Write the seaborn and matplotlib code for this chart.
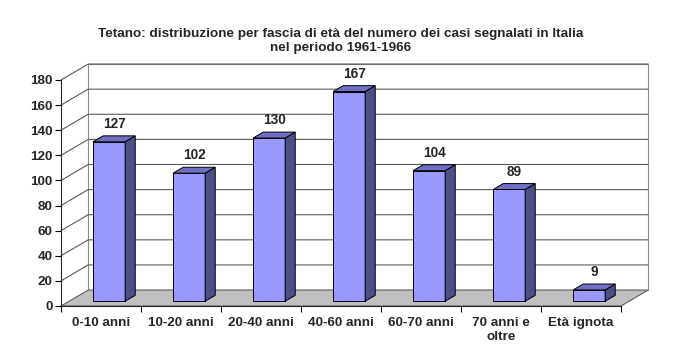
import matplotlib
matplotlib.use("Agg")
import matplotlib.pyplot as plt
import matplotlib.transforms as mtransforms
from matplotlib.patches import Polygon
import seaborn as sns

categories = ["0-10 anni", "10-20 anni", "20-40 anni", "40-60 anni",
              "60-70 anni", "70 anni e\noltre", "Età ignota"]
cases = [127, 102, 130, 167, 104, 89, 9]
y_ticks = [0, 20, 40, 60, 80, 100, 120, 140, 160, 180]
title = ("Tetano: distribuzione per fascia di età del numero dei casi segnalati in Italia\n"
         "nel periodo 1961-1966")

sns.set_style("ticks")
plt.rcParams["font.family"] = ["Liberation Sans", "DejaVu Sans"]

fig = plt.figure(figsize=(6.94, 3.61), dpi=100)
ax = fig.add_axes([61 / 694, 55 / 361, 560 / 694, 226 / 361])

# 3D look: depth of the box (data units) and where the bars sit in it
DX, DY = 0.34, 12.7
f0, f1 = 0.30, 0.67
front_col, side_col, top_col = "#9999ff", "#4f4f86", "#6f6fc4"

sns.barplot(x=categories, y=cases, color=front_col, width=0.4, saturation=1,
            edgecolor="black", linewidth=0.7, ax=ax, zorder=2)
bars = list(ax.patches)

ax.set_xlim(-0.5, len(categories) - 0.5)
ax.set_ylim(0, 180)
x0, x1 = -0.5, len(categories) - 0.5

# back wall, floor, side wall
ax.add_patch(Polygon([(x0 + DX, DY), (x1 + DX, DY), (x1 + DX, 180 + DY), (x0 + DX, 180 + DY)],
                     closed=True, facecolor="white", edgecolor="#8c8c8c", lw=0.8,
                     clip_on=False, zorder=0.5))
ax.add_patch(Polygon([(x0, 0), (x1, 0), (x1 + DX, DY), (x0 + DX, DY)],
                     closed=True, facecolor="#c0c0c0", edgecolor="#606060", lw=0.8,
                     clip_on=False, zorder=0.6))
for v in y_ticks[1:]:
    ax.plot([x0, x0 + DX, x1 + DX], [v, v + DY, v + DY], color="#5a5a5a", lw=0.8,
            clip_on=False, zorder=0.7)

off = mtransforms.offset_copy(ax.transData, fig=fig,
                              x=f0 * DX * 80 / 100, y=f0 * DY * (226 / 180) / 100,
                              units="inches")
bw = 0.4
bdx, bdy = (f1 - f0) * DX, (f1 - f0) * DY
for i, (p, v) in enumerate(zip(bars, cases)):
    p.set_transform(off)
    p.set_clip_on(False)
    l, r = i - bw / 2, i + bw / 2
    ax.add_patch(Polygon([(r, 0), (r + bdx, bdy), (r + bdx, v + bdy), (r, v)], closed=True,
                         facecolor=side_col, edgecolor="black", lw=0.7, transform=off,
                         clip_on=False, zorder=2))
    ax.add_patch(Polygon([(l, v), (r, v), (r + bdx, v + bdy), (l + bdx, v + bdy)], closed=True,
                         facecolor=top_col, edgecolor="black", lw=0.7, transform=off,
                         clip_on=False, zorder=2))
    ax.annotate(str(v), (i + bdx / 2, v + bdy), xycoords=off, xytext=(0, 3.5),
                textcoords="offset points", ha="center", va="bottom",
                fontsize=9.8, fontweight="bold", zorder=3)

ax.set_yticks(y_ticks)
ax.set_xticks([i + 0.5 for i in range(-1, len(categories))], minor=True)
ax.tick_params(axis="x", which="major", length=0, pad=8, labelsize=9.7)
ax.tick_params(axis="x", which="minor", length=4, width=0.8, color="black")
ax.tick_params(axis="y", length=4, width=0.8, color="black", pad=2, labelsize=9.7)
for lab in ax.get_xticklabels() + ax.get_yticklabels():
    lab.set_fontweight("bold")
ax.set_xlabel("")
ax.set_ylabel("")
sns.despine(ax=ax, top=True, right=True)
ax.spines["left"].set_linewidth(0.8)
ax.spines["bottom"].set_linewidth(0.8)
ax.spines["left"].set_zorder(1)
ax.spines["bottom"].set_zorder(1)
ax.patch.set_alpha(0)

fig.text(0.5 - 6 / 694, 1 - 41 / 361, title, ha="center", va="center",
         fontsize=9.7, fontweight="bold", linespacing=1.2)

fig.savefig("out.png", dpi=100)
